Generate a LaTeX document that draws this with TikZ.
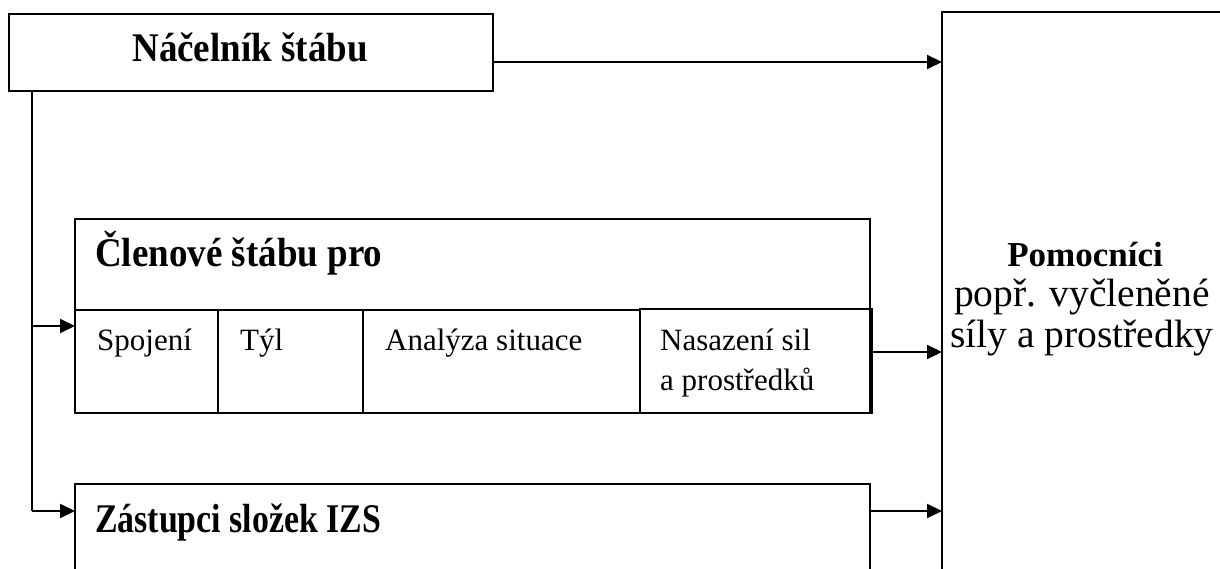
\documentclass[tikz,border=0pt]{standalone}
\usepackage{fontspec}
\setmainfont{Liberation Serif}
\usetikzlibrary{arrows.meta}
\begin{document}
\begin{tikzpicture}[x=1pt,y=-1pt,
  box/.style={draw, line width=2pt, inner sep=0pt, outer sep=0pt},
  bigbox/.style={draw, line width=1.5pt, inner sep=0pt, outer sep=0pt},
  arr/.style={line width=2pt, -{Triangle[length=15pt,width=14pt]}},
  line/.style={line width=2pt},
  head/.style={font=\fontsize{37}{40}\selectfont\bfseries, inner sep=0pt},
  cell/.style={font=\fontsize{31}{36}\selectfont, inner sep=0pt, anchor=base west},
  side/.style={font=\fontsize{39.5}{42}\selectfont, inner sep=0pt, anchor=base}]
\path[use as bounding box, clip] (0,0) rectangle (1220,569);
\fill[white] (0,0) rectangle (1220,569);

% boxes
\node[box, minimum width=484pt, minimum height=77pt] (nac) at (251,52.5) {};
\node[bigbox, minimum width=298pt, minimum height=588pt] (pom) at (1091,306) {};
\node[box, minimum width=795pt, minimum height=194pt] (cl) at (472.5,316) {};
\node[box, minimum width=232pt, minimum height=104pt] (nas) at (756,361) {};
\node[box, minimum width=795pt, minimum height=116pt] (zas) at (472.5,542) {};

% table dividers
\coordinate (rowL) at (75,310);
\coordinate (rowR) at (640,310);
\draw[line] (rowL) -- (rowR);
\coordinate (d1t) at (218,310);
\coordinate (d1b) at (218,413);
\coordinate (d2t) at (363,310);
\coordinate (d2b) at (363,413);
\draw[line] (d1t) -- (d1b);
\draw[line] (d2t) -- (d2b);

% texts
\node[head, anchor=base] (tnac) at (250,62) {\scalebox{1}[1.1]{Náčelník štábu}};
\node[head, anchor=base west] (tcl) at (95,266) {\scalebox{1}[1.1]{Členové štábu pro}};
\node[head, anchor=base west] (tzas) at (95,532) {\scalebox{0.915}[1.1]{Zástupci složek IZS}};
\node[cell] (tspo) at (97,350) {Spojení};
\node[cell] (ttyl) at (240,350) {Týl};
\node[cell] (tana) at (385,350) {Analýza situace};
\node[cell] (tnas1) at (660,350) {Nasazení sil};
\node[cell] (tnas2) at (660,390) {a prostředků};
\node[side, font=\fontsize{35}{42}\selectfont\bfseries] (tpom) at (1085,267) {Pomocníci};
\node[side] (tpop) at (1082,306) {popř. vyčleněné};
\node[side] (tsil) at (1082,347) {síly a prostředky};

% connectors
\coordinate (trunkTop) at (32,91);
\coordinate (jCl) at (32,326);
\coordinate (jZas) at (32,511);
\draw[line] (trunkTop) -- (jZas);
\draw[arr] (jCl) -- (jCl -| cl.west);
\draw[arr] (jZas) -- (jZas -| zas.west);
\draw[arr] (nac.east |- 0,62) -- (pom.west |- 0,62);
\draw[arr] (nas.east |- 0,352) -- (pom.west |- 0,352);
\draw[arr] (zas.east |- 0,511) -- (pom.west |- 0,511);
\end{tikzpicture}
\end{document}
